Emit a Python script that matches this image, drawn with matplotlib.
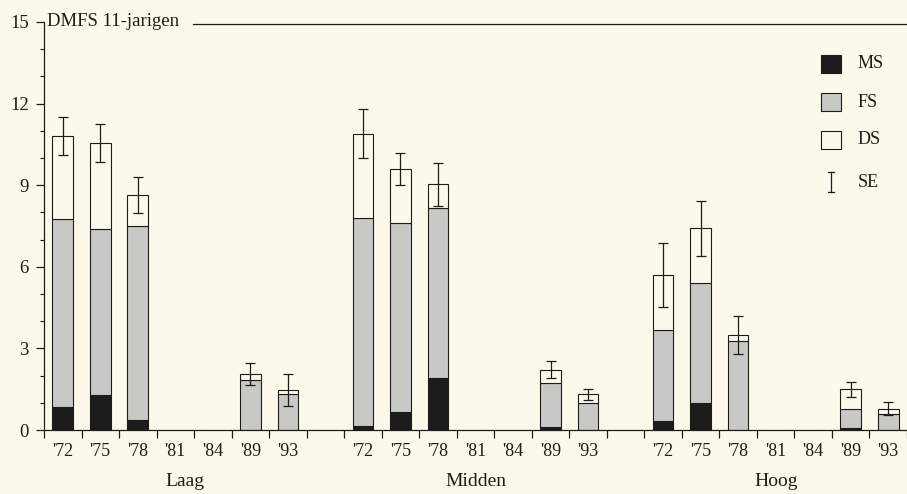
import numpy as np
import matplotlib
matplotlib.use("Agg")
import matplotlib.pyplot as plt
from matplotlib.patches import Rectangle
from matplotlib.transforms import blended_transform_factory

plt.rcParams['font.family'] = ['Liberation Serif', 'DejaVu Serif']

years = ["'72", "'75", "'78", "'81", "'84", "'89", "'93"]
groups = ["Laag", "Midden", "Hoog"]

# componenten per groep, nan = geen meting
ms = {
    "Laag":   [0.85, 1.29, 0.37, np.nan, np.nan, 0.00, 0.00],
    "Midden": [0.16, 0.65, 1.92, np.nan, np.nan, 0.10, 0.00],
    "Hoog":   [0.33, 1.00, 0.00, np.nan, np.nan, 0.08, 0.00],
}
fs = {
    "Laag":   [6.91, 6.10, 7.13, np.nan, np.nan, 1.84, 1.32],
    "Midden": [7.63, 6.95, 6.25, np.nan, np.nan, 1.63, 0.99],
    "Hoog":   [3.35, 4.39, 3.29, np.nan, np.nan, 0.68, 0.57],
}
ds = {
    "Laag":   [3.04, 3.16, 1.14, np.nan, np.nan, 0.22, 0.15],
    "Midden": [3.11, 2.00, 0.86, np.nan, np.nan, 0.49, 0.32],
    "Hoog":   [2.02, 2.02, 0.20, np.nan, np.nan, 0.73, 0.22],
}
se = {
    "Laag":   [0.70, 0.70, 0.65, np.nan, np.nan, 0.39, 0.60],
    "Midden": [0.90, 0.58, 0.80, np.nan, np.nan, 0.30, 0.20],
    "Hoog":   [1.17, 1.00, 0.70, np.nan, np.nan, 0.28, 0.25],
}

bg = '#fbf9e9'
ink = '#1c1c1c'
grey = '#c8c8c4'
W, H = 907, 494

fig = plt.figure(figsize=(W / 100, H / 100), dpi=100, facecolor=bg)
ax = fig.add_axes([44 / W, 64 / H, 863 / W, 408 / H], facecolor=bg)

bw = 0.55
tick_pos = []
tick_lab = []
tr = blended_transform_factory(ax.transData, ax.transAxes)
for g, grp in enumerate(groups):
    x = np.arange(len(years)) + g * (len(years) + 1)
    m = np.array(ms[grp]); f = np.array(fs[grp]); d = np.array(ds[grp]); s = np.array(se[grp])
    ok = ~np.isnan(m)
    ax.bar(x[ok], m[ok], bw, color=ink, edgecolor=ink, linewidth=0.8)
    ax.bar(x[ok], f[ok], bw, bottom=m[ok], color=grey, edgecolor=ink, linewidth=0.8)
    ax.bar(x[ok], d[ok], bw, bottom=(m + f)[ok], color=bg, edgecolor=ink, linewidth=0.8)
    ax.errorbar(x[ok], (m + f + d)[ok], yerr=s[ok], fmt='none', ecolor=ink,
                elinewidth=0.9, capsize=3.5, capthick=0.9)
    tick_pos += list(x)
    tick_lab += years
    ax.text(x.mean() + (0.25 if g == 0 else 0), -0.125, grp, transform=tr,
            ha='center', va='center', fontsize=14, color=ink)

ax.set_xlim(-0.5, 22.5)
ax.set_ylim(0, 15)

ax.set_xticks(np.arange(-0.5, 23, 1.0))
ax.set_xticklabels([])
ax.set_xticks(tick_pos, minor=True)
ax.set_xticklabels(tick_lab, minor=True, fontsize=13, color=ink)
ax.tick_params(axis='x', which='major', direction='out', length=6, width=0.9, color=ink)
ax.tick_params(axis='x', which='minor', length=0, pad=9)

ax.set_yticks(np.arange(0, 16, 3))
ax.set_yticks(np.arange(0, 16, 1), minor=True)
ax.tick_params(axis='y', which='major', direction='out', length=6, width=0.9,
               color=ink, labelsize=13.5, labelcolor=ink, pad=5)
ax.tick_params(axis='y', which='minor', direction='out', length=3, width=0.8, color=ink)

for side in ['top', 'right']:
    ax.spines[side].set_visible(False)
for side in ['left', 'bottom']:
    ax.spines[side].set_linewidth(0.9)
    ax.spines[side].set_color(ink)

# titel met lijn
ax.text(0.004, 1.0, 'DMFS 11-jarigen', transform=ax.transAxes, ha='left',
        va='center', fontsize=13.5, color=ink)
ax.plot([0.173, 1.0], [0.995, 0.995], transform=ax.transAxes, color=ink,
        linewidth=0.9, clip_on=False)

# legenda, handmatig geplaatst
leg_labels = ['MS', 'FS', 'DS']
leg_colors = [ink, grey, bg]
leg_rows = [64, 102, 140]
for lab, col, yc in zip(leg_labels, leg_colors, leg_rows):
    fig.add_artist(Rectangle((821 / W, 1 - (yc + 9) / H), 20 / W, 18 / H,
                             transform=fig.transFigure, facecolor=col,
                             edgecolor=ink, linewidth=0.8))
    fig.text(858 / W, 1 - yc / H, lab, ha='left', va='center', fontsize=13, color=ink)
yc = 182
fig.add_artist(plt.Line2D([831 / W, 831 / W], [1 - (yc - 10) / H, 1 - (yc + 10) / H],
                          transform=fig.transFigure, color=ink, linewidth=0.9))
for yy in (yc - 10, yc + 10):
    fig.add_artist(plt.Line2D([828 / W, 834 / W], [1 - yy / H, 1 - yy / H],
                              transform=fig.transFigure, color=ink, linewidth=0.9))
fig.text(858 / W, 1 - yc / H, 'SE', ha='left', va='center', fontsize=13, color=ink)

fig.savefig('out.png', dpi=100, facecolor=bg)
